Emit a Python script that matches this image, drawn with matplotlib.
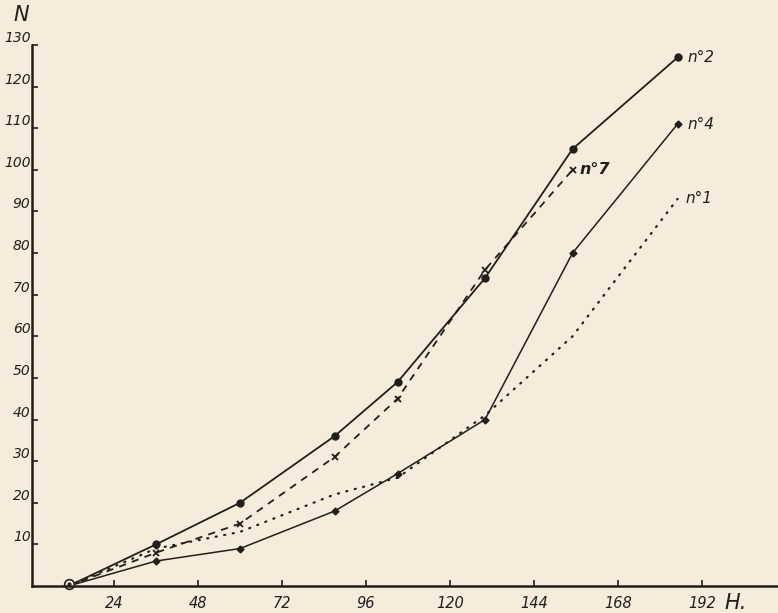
import matplotlib.pyplot as plt

# hours (H.) and counts (N)
hours = [11, 36, 60, 87, 105, 130, 155, 185]
n2 = [0, 10, 20, 36, 49, 74, 105, 127]
n4 = [0, 6, 9, 18, 27, 40, 80, 111]
n7 = [0, 8, 15, 31, 45, 76, 100]
n1 = [0, 9, 13, 22, 26, 41, 60, 93]

xticks = [24, 48, 72, 96, 120, 144, 168, 192]
yticks = [10, 20, 30, 40, 50, 60, 70, 80, 90, 100, 110, 120, 130]

ink = '#221e1b'
paper = '#f6ecdc'
font = dict(family='DejaVu Sans', style='italic', color=ink)

fig = plt.figure(figsize=(7.78, 6.13), dpi=100, facecolor=paper)
ax = fig.add_axes([32 / 778, 27 / 613, 1 - 32 / 778, 0.8826])
ax.set_facecolor(paper)

# series
ax.plot(hours, n2, color=ink, lw=1.3, marker='o', ms=5, markevery=slice(1, None))
ax.plot(hours, n4, color=ink, lw=1.1, marker='D', ms=3.5, markevery=slice(1, None))
ax.plot(hours[:len(n7)], n7, color=ink, lw=1.3, ls=(0, (4, 3.5)),
        marker='x', ms=5, mew=1.3, markevery=slice(1, None))
ax.plot(hours, n1, color=ink, lw=1.6, ls=(0, (0.5, 3.4)), dash_capstyle='round')

# origin marker
ax.plot(hours[0], 0.6, marker='o', ms=7, mfc=paper, mec=ink, mew=1.2, clip_on=False)
ax.plot(hours[0], 0.6, marker='o', ms=2, color=ink, clip_on=False)

# series labels
ax.annotate('n°2', (hours[-1], n2[-1]), xytext=(7, 0), textcoords='offset points',
            va='center', fontsize=11, **font)
ax.annotate('n°4', (hours[-1], n4[-1]), xytext=(7, 0), textcoords='offset points',
            va='center', fontsize=11, **font)
ax.annotate('n°7', (hours[len(n7) - 1], n7[-1]), xytext=(5, 0), textcoords='offset points',
            va='center', fontsize=11.5, fontweight='bold', **font)
ax.annotate('n°1', (hours[-1], n1[-1]), xytext=(6, 0), textcoords='offset points',
            va='center', fontsize=11, **font)

ax.set_xlim(0.57, 213.7)
ax.set_ylim(0, 130)

for s in ['top', 'right']:
    ax.spines[s].set_visible(False)
for s in ['left', 'bottom']:
    ax.spines[s].set_color(ink)
    ax.spines[s].set_linewidth(1.8)

ax.set_xticks(xticks)
ax.set_xticklabels([str(t) for t in xticks], fontsize=10.5, **font)
ax.set_yticks(yticks)
ax.set_yticklabels([str(t) for t in yticks], fontsize=10, va='bottom', **font)
ax.tick_params(direction='in', length=4, width=1.2, color=ink)
ax.tick_params(axis='x', pad=7)
ax.tick_params(axis='y', pad=1)

# axis titles
fig.text(21 / 778, 1 - 15 / 613, 'N', ha='center', va='center', fontsize=15, **font)
fig.text(736 / 778, 1 - 603 / 613, 'H.', ha='center', va='center', fontsize=15, **font)

fig.savefig('out.png', dpi=100, facecolor=paper)
